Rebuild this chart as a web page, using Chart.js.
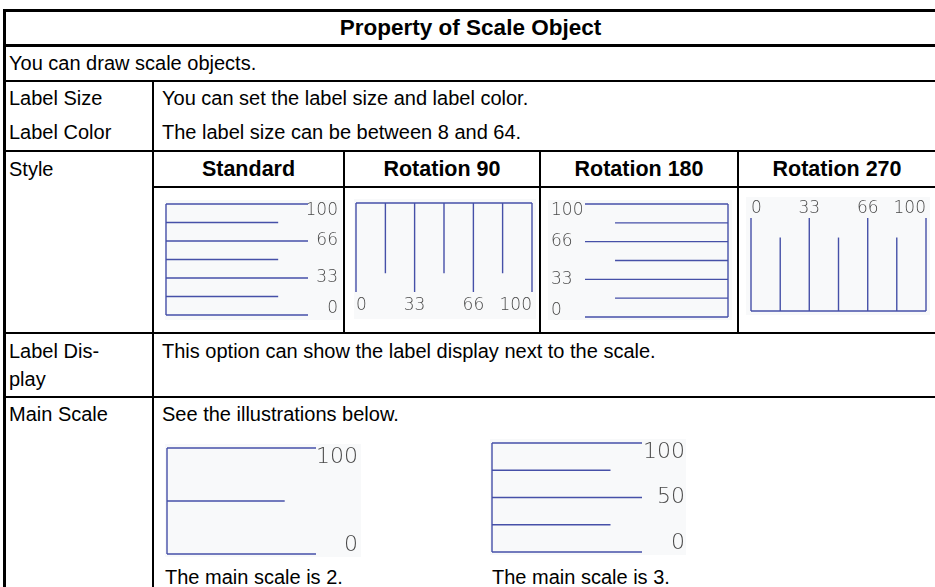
<!DOCTYPE html>
<html>
<head>
<meta charset="utf-8">
<script src="https://cdn.jsdelivr.net/npm/chart.js@4.4.1/dist/chart.umd.min.js"></script>
<style>
body { margin: 0; background: #fff; }
#page { position: relative; width: 935px; height: 587px; overflow: hidden; font-family: "Liberation Sans", Arial, sans-serif; font-size: 20px; color: #000; }
.ln { position: absolute; background: #000; }
.t { position: absolute; white-space: nowrap; line-height: 24px; }
.b { font-weight: bold; text-align: center; font-size: 21.5px; }
canvas { position: absolute; background: #f8f9fa; }
</style>
</head>
<body>
<div id="page">
  <!-- table rules -->
  <div class="ln" style="left:3px;top:9px;width:932px;height:3px"></div>
  <div class="ln" style="left:3px;top:44px;width:932px;height:3px"></div>
  <div class="ln" style="left:3px;top:80px;width:932px;height:2px"></div>
  <div class="ln" style="left:3px;top:150px;width:932px;height:2px"></div>
  <div class="ln" style="left:153px;top:186px;width:782px;height:2px"></div>
  <div class="ln" style="left:3px;top:332px;width:932px;height:2px"></div>
  <div class="ln" style="left:3px;top:396px;width:932px;height:2px"></div>
  <div class="ln" style="left:3px;top:9px;width:3px;height:578px"></div>
  <div class="ln" style="left:152px;top:80px;width:2px;height:507px"></div>
  <div class="ln" style="left:343px;top:150px;width:2px;height:184px"></div>
  <div class="ln" style="left:539px;top:150px;width:2px;height:184px"></div>
  <div class="ln" style="left:737px;top:150px;width:2px;height:184px"></div>

  <div class="t b" style="left:6px;width:929px;top:16px;font-size:22.5px">Property of Scale Object</div>
  <div class="t" style="left:9px;top:51px">You can draw scale objects.</div>
  <div class="t" style="left:9px;top:86px">Label Size</div>
  <div class="t" style="left:9px;top:120px">Label Color</div>
  <div class="t" style="left:162px;top:86px">You can set the label size and label color.</div>
  <div class="t" style="left:162px;top:120px">The label size can be between 8 and 64.</div>
  <div class="t" style="left:9px;top:157px">Style</div>
  <div class="t b" style="left:154px;width:189px;top:157px">Standard</div>
  <div class="t b" style="left:345px;width:194px;top:157px">Rotation 90</div>
  <div class="t b" style="left:541px;width:196px;top:157px">Rotation 180</div>
  <div class="t b" style="left:739px;width:196px;top:157px">Rotation 270</div>
  <div class="t" style="left:9px;top:339px">Label Dis-</div>
  <div class="t" style="left:9px;top:367px">play</div>
  <div class="t" style="left:162px;top:339px">This option can show the label display next to the scale.</div>
  <div class="t" style="left:9px;top:402px">Main Scale</div>
  <div class="t" style="left:162px;top:402px">See the illustrations below.</div>
  <div class="t" style="left:165px;top:565px">The main scale is 2.</div>
  <div class="t" style="left:492px;top:565px">The main scale is 3.</div>

  <canvas id="std" width="177" height="120" style="left:165px;top:200px"></canvas>
  <canvas id="rot90" width="182" height="120" style="left:354px;top:199px"></canvas>
  <canvas id="rot180" width="184" height="120" style="left:548px;top:200px"></canvas>
  <canvas id="rot270" width="184" height="118" style="left:746px;top:197px"></canvas>
  <canvas id="main2" width="196" height="113" style="left:165px;top:444px"></canvas>
  <canvas id="main3" width="196" height="116" style="left:490px;top:439px"></canvas>
</div>
<script>
// scale values (0..100) and the text printed next to them
const styleMajor = [0, 33.3, 66.7, 100];
const styleMinor = [16.7, 50, 83.3];
const styleLabels = ["0", "33", "66", "100"];

const main2Major = [0, 100];
const main2Minor = [50];
const main2Labels = ["0", "100"];

const main3Major = [0, 50, 100];
const main3Minor = [25, 75];
const main3Labels = ["0", "50", "100"];

const lineColor = "#4650a8";
const labelColor = "#4a4a4a";
const MINOR_LEN = 0.79;

// points for one tick line; vertical styles put the value on y
const seg = (vertical, v, len) => vertical
  ? [{ x: 0, y: v }, { x: len, y: v }]
  : [{ x: v, y: 0 }, { x: v, y: len }];

const drawScale = (id, style, major, minor, labels, fontSize, axisSize, pad, tickPad) => {
  const vertical = style === "std" || style === "rot180";
  const lines = [vertical ? [{ x: 0, y: 0 }, { x: 0, y: 100 }] : [{ x: 0, y: 0 }, { x: 100, y: 0 }]];
  major.forEach(v => lines.push(seg(vertical, v, 1)));
  minor.forEach(v => lines.push(seg(vertical, v, MINOR_LEN)));

  const datasets = lines.map(pts => ({
    data: pts,
    showLine: true,
    borderColor: lineColor,
    borderWidth: 1.4,
    pointRadius: 0,
    clip: false
  }));

  const valueAxis = {
    type: "linear",
    min: 0,
    max: 100,
    grid: { display: false, drawTicks: false },
    border: { display: false },
    afterBuildTicks: (s) => { s.ticks = major.map(v => ({ value: v })); },
    ticks: {
      autoSkip: false,
      color: labelColor,
      font: { family: "DejaVu Sans", size: fontSize, weight: 200, lineHeight: 0.8 },
      padding: tickPad,
      callback: (val, i) => {
        const txt = labels[i];
        if (!vertical) return txt;
        // keep end labels inside the box like the original
        if (i === 0) return [txt, ""];
        if (i === major.length - 1) return ["", txt];
        return txt;
      }
    }
  };
  const lenAxis = { type: "linear", min: 0, max: 1, display: false };
  const noPad = (s) => { s.paddingTop = 0; s.paddingBottom = 0; s.paddingLeft = 0; s.paddingRight = 0; };

  let scales;
  if (vertical) {
    valueAxis.position = style === "std" ? "right" : "left";
    valueAxis.ticks.crossAlign = "far";
    valueAxis.afterFit = (s) => { s.width = axisSize; noPad(s); };
    lenAxis.reverse = style === "rot180";
    scales = { x: lenAxis, y: valueAxis };
  } else {
    valueAxis.position = style === "rot90" ? "bottom" : "top";
    valueAxis.ticks.align = "inner";
    valueAxis.ticks.maxRotation = 0;
    valueAxis.afterFit = (s) => { s.height = axisSize; noPad(s); };
    lenAxis.reverse = style === "rot90";
    scales = { x: valueAxis, y: lenAxis };
  }

  new Chart(document.getElementById(id), {
    type: "scatter",
    data: { datasets },
    options: {
      responsive: false,
      animation: false,
      layout: { padding: pad },
      scales,
      plugins: { legend: { display: false }, tooltip: { enabled: false } }
    }
  });
};

drawScale("std", "std", styleMajor, styleMinor, styleLabels, 17, 30, { left: 1, top: 4, bottom: 5, right: 4 }, 3);
drawScale("rot90", "rot90", styleMajor, styleMinor, styleLabels, 17, 24, { left: 2, top: 4, right: 4, bottom: 3 }, 7);
drawScale("rot180", "rot180", styleMajor, styleMinor, styleLabels, 17, 34, { left: 3, top: 4, bottom: 3, right: 4 }, 3);
drawScale("rot270", "rot270", styleMajor, styleMinor, styleLabels, 17, 18, { left: 5, top: 3, right: 4, bottom: 4 }, 3);
drawScale("main2", "std", main2Major, main2Minor, main2Labels, 22, 42, { left: 2, top: 4, bottom: 3, right: 3 }, 3);
drawScale("main3", "std", main3Major, main3Minor, main3Labels, 22, 43, { left: 2, top: 4, bottom: 3, right: 1 }, 3);
</script>
</body>
</html>
